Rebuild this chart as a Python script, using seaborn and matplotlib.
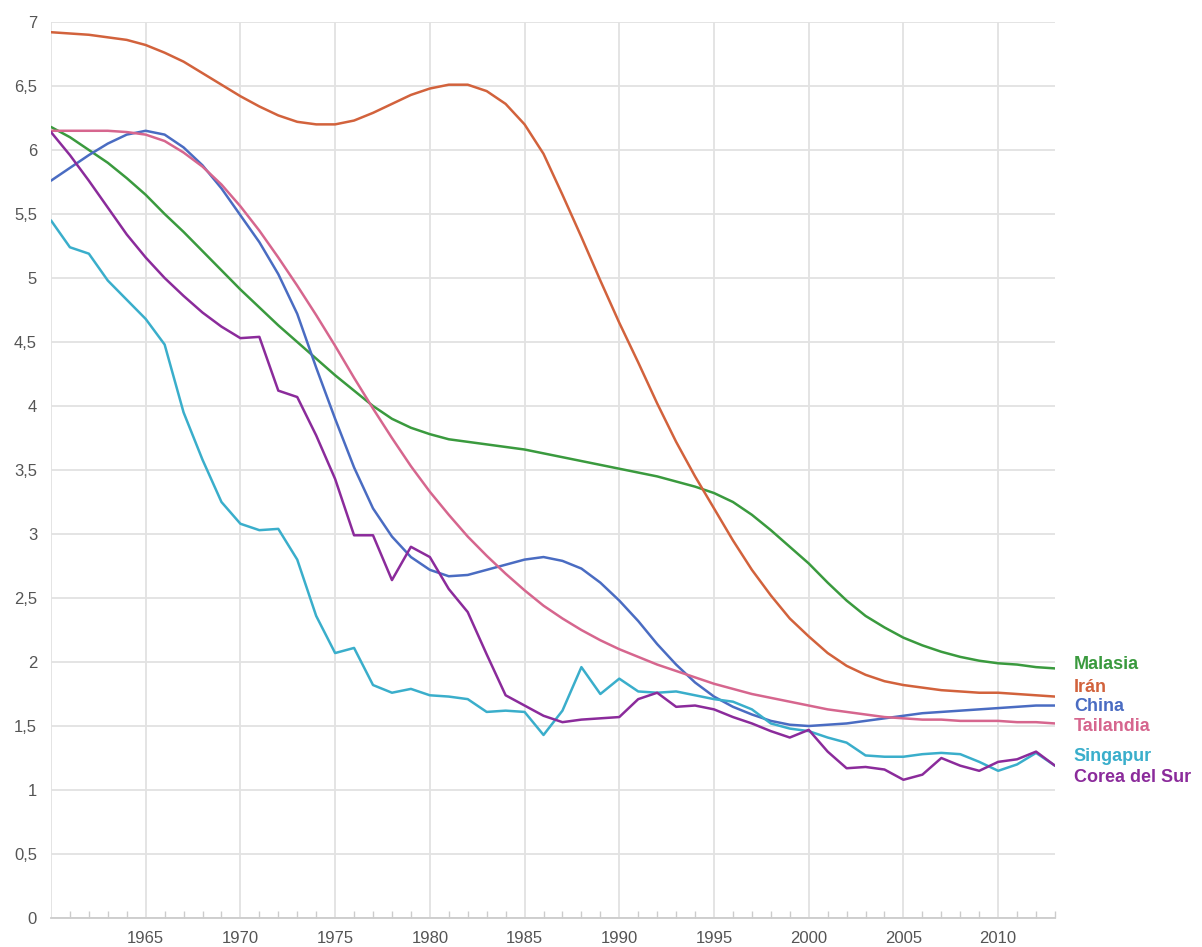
import numpy as np
import pandas as pd
import matplotlib
matplotlib.use("Agg")
import matplotlib.pyplot as plt
import seaborn as sns
from matplotlib.ticker import MultipleLocator, FuncFormatter

years = list(range(1960, 2014))

malasia = [6.18, 6.10, 6.00, 5.90, 5.78, 5.65, 5.50, 5.36, 5.21, 5.06,
           4.91, 4.77, 4.63, 4.50, 4.37, 4.24, 4.12, 4.00, 3.90, 3.83,
           3.78, 3.74, 3.72, 3.70, 3.68, 3.66, 3.63, 3.60, 3.57, 3.54,
           3.51, 3.48, 3.45, 3.41, 3.37, 3.32, 3.25, 3.15, 3.03, 2.90,
           2.77, 2.62, 2.48, 2.36, 2.27, 2.19, 2.13, 2.08, 2.04, 2.01,
           1.99, 1.98, 1.96, 1.95]
iran = [6.92, 6.91, 6.90, 6.88, 6.86, 6.82, 6.76, 6.69, 6.60, 6.51,
        6.42, 6.34, 6.27, 6.22, 6.20, 6.20, 6.23, 6.29, 6.36, 6.43,
        6.48, 6.51, 6.51, 6.46, 6.36, 6.20, 5.97, 5.65, 5.32, 4.98,
        4.65, 4.34, 4.02, 3.72, 3.45, 3.20, 2.95, 2.72, 2.52, 2.34,
        2.20, 2.07, 1.97, 1.90, 1.85, 1.82, 1.80, 1.78, 1.77, 1.76,
        1.76, 1.75, 1.74, 1.73]
china = [5.76, 5.86, 5.96, 6.05, 6.12, 6.15, 6.12, 6.02, 5.88, 5.70,
         5.49, 5.28, 5.03, 4.72, 4.30, 3.90, 3.52, 3.20, 2.98, 2.82,
         2.72, 2.67, 2.68, 2.72, 2.76, 2.80, 2.82, 2.79, 2.73, 2.62,
         2.48, 2.32, 2.14, 1.98, 1.84, 1.73, 1.65, 1.59, 1.54, 1.51,
         1.50, 1.51, 1.52, 1.54, 1.56, 1.58, 1.60, 1.61, 1.62, 1.63,
         1.64, 1.65, 1.66, 1.66]
tailandia = [6.15, 6.15, 6.15, 6.15, 6.14, 6.12, 6.07, 5.98, 5.87, 5.73,
             5.56, 5.37, 5.16, 4.94, 4.71, 4.47, 4.22, 3.98, 3.75, 3.53,
             3.33, 3.15, 2.98, 2.83, 2.69, 2.56, 2.44, 2.34, 2.25, 2.17,
             2.10, 2.04, 1.98, 1.93, 1.88, 1.83, 1.79, 1.75, 1.72, 1.69,
             1.66, 1.63, 1.61, 1.59, 1.57, 1.56, 1.55, 1.55, 1.54, 1.54,
             1.54, 1.53, 1.53, 1.52]
singapur = [5.45, 5.24, 5.19, 4.98, 4.83, 4.68, 4.48, 3.95, 3.58, 3.25,
            3.08, 3.03, 3.04, 2.80, 2.36, 2.07, 2.11, 1.82, 1.76, 1.79,
            1.74, 1.73, 1.71, 1.61, 1.62, 1.61, 1.43, 1.62, 1.96, 1.75,
            1.87, 1.77, 1.76, 1.77, 1.74, 1.71, 1.69, 1.63, 1.52, 1.48,
            1.46, 1.41, 1.37, 1.27, 1.26, 1.26, 1.28, 1.29, 1.28, 1.22,
            1.15, 1.20, 1.29, 1.19]
corea = [6.14, 5.96, 5.76, 5.55, 5.34, 5.16, 5.00, 4.86, 4.73, 4.62,
         4.53, 4.54, 4.12, 4.07, 3.77, 3.43, 2.99, 2.99, 2.64, 2.90,
         2.82, 2.57, 2.39, 2.06, 1.74, 1.66, 1.58, 1.53, 1.55, 1.56,
         1.57, 1.71, 1.76, 1.65, 1.66, 1.63, 1.57, 1.52, 1.46, 1.41,
         1.47, 1.30, 1.17, 1.18, 1.16, 1.08, 1.12, 1.25, 1.19, 1.15,
         1.22, 1.24, 1.30, 1.19]

countries = ["Malasia", "Irán", "China", "Tailandia", "Singapur", "Corea del Sur"]
series = [malasia, iran, china, tailandia, singapur, corea]
colors = ["#3a9a3e", "#d2623c", "#4a6cc2", "#d6668e", "#3aaecb", "#8b2b9b"]
label_y = [1.98, 1.80, 1.65, 1.50, 1.26, 1.10]

df = pd.concat([pd.DataFrame({"year": years, "value": s, "country": c})
                for c, s in zip(countries, series)], ignore_index=True)

sns.set_theme(style="white")
plt.rcParams["font.family"] = ["Liberation Sans", "DejaVu Sans"]

fig = plt.figure(figsize=(12.02, 9.47), dpi=100)
ax = fig.add_axes([0.0424, 0.0306, 0.8353, 0.9462])

sns.lineplot(data=df, x="year", y="value", hue="country", hue_order=countries,
             palette=dict(zip(countries, colors)), linewidth=1.8, legend=False, ax=ax)

ax.set_xlim(1960, 2013)
ax.set_ylim(0, 7)
ax.xaxis.set_major_locator(MultipleLocator(5))
ax.xaxis.set_minor_locator(MultipleLocator(1))
ax.yaxis.set_major_locator(MultipleLocator(0.5))
ax.yaxis.set_major_formatter(FuncFormatter(lambda v, p: ("%g" % v).replace(".", ",")))
ax.xaxis.set_major_formatter(FuncFormatter(lambda v, p: "" if v == 1960 else "%d" % v))
ax.grid(True, which="major", color="#e2e2e2", linewidth=1.3)
ax.set_axisbelow(True)
for s in ["top", "right", "left"]:
    ax.spines[s].set_visible(False)
ax.spines["bottom"].set_color("#cccccc")
ax.spines["bottom"].set_linewidth(1.3)
ax.tick_params(axis="x", which="minor", direction="in", length=5, color="#cccccc", width=1, bottom=True)
ax.tick_params(axis="x", which="major", direction="in", length=0, pad=9, labelsize=12, labelcolor="#555555")
ax.tick_params(axis="y", which="major", length=0, pad=10, labelsize=12, labelcolor="#555555")
ax.set_xlabel("")
ax.set_ylabel("")

for c, col, ly in zip(countries, colors, label_y):
    ax.text(2014.0, ly, c, color=col, fontsize=13, fontweight="bold",
            va="center", ha="left", clip_on=False)

fig.savefig("out.png", dpi=100, facecolor="white")
